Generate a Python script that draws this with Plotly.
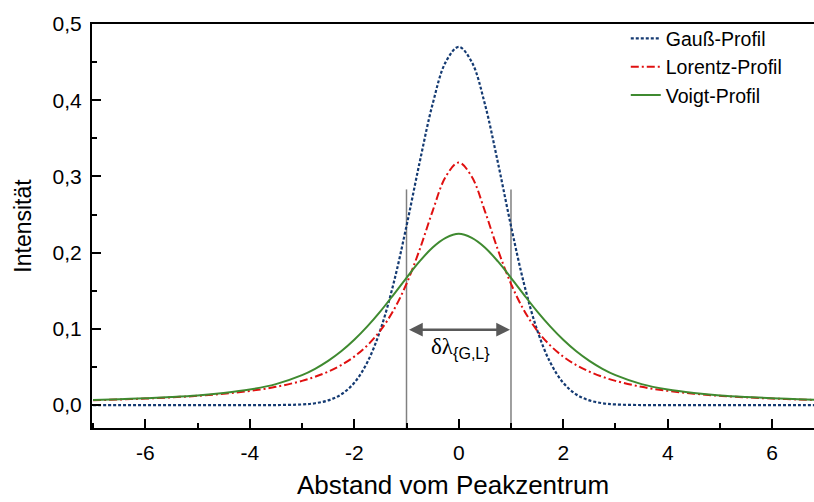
import plotly.graph_objects as go

# Abstand vom Peakzentrum (x values)
x_vals = [-7, -6.5, -6, -5.5, -5, -4.5, -4, -3.5, -3, -2.75, -2.5, -2.25, -2, -1.75, -1.5, -1.25, -1,
          -0.75, -0.5, -0.25, 0, 0.25, 0.5, 0.75, 1, 1.25, 1.5, 1.75, 2, 2.25, 2.5, 2.75, 3, 3.5,
          4, 4.5, 5, 5.5, 6, 6.5, 7]

# Half-profiles (|x| = 0 ... 7), mirrored about the peak
half_x = [0, 0.25, 0.5, 0.75, 1, 1.25, 1.5, 1.75, 2, 2.25, 2.5, 2.75, 3, 3.5, 4, 4.5, 5, 5.5, 6, 6.5, 7]
gauss_half = [0.470, 0.450, 0.395, 0.318, 0.235, 0.159, 0.0987, 0.0562, 0.0293, 0.0140, 0.0062,
              0.0025, 0.0009, 0.0001, 0.0, 0.0, 0.0, 0.0, 0.0, 0.0, 0.0]
lorentz_half = [0.3183, 0.2996, 0.2546, 0.2037, 0.1592, 0.1242, 0.0979, 0.0784, 0.0637, 0.0525,
                0.0439, 0.0372, 0.0318, 0.0240, 0.0187, 0.0150, 0.0122, 0.0102, 0.0086, 0.0074, 0.0064]
voigt_half = [0.2248, 0.2194, 0.2068, 0.1885, 0.1670, 0.1447, 0.1230, 0.1033, 0.0857, 0.0706,
              0.0580, 0.0476, 0.0393, 0.0276, 0.0205, 0.0160, 0.0128, 0.0107, 0.0091, 0.0078, 0.0068]

series_names = ["Gauß-Profil", "Lorentz-Profil", "Voigt-Profil"]

# FWHM markers and arrow
fwhm_x = [-1, 1]
fwhm_line_top = 0.283
arrow_y = 0.099
label_text = ("δλ<sub><span style='font-family:Liberation Sans, Arial'>{G,L}</span></sub>")

x_ticks = [-6, -4, -2, 0, 2, 4, 6]
y_ticks = [0.0, 0.1, 0.2, 0.3, 0.4, 0.5]


def mirror(half):
    lookup = dict(zip(half_x, half))
    return [lookup[abs(v)] for v in x_vals]


gauss = mirror(gauss_half)
lorentz = mirror(lorentz_half)
voigt = mirror(voigt_half)

fig = go.Figure()

# FWHM vertical lines
for xv in fwhm_x:
    fig.add_trace(go.Scatter(x=[xv, xv], y=[-0.03, fwhm_line_top], mode="lines",
                             line=dict(color="#808080", width=1.5), showlegend=False,
                             hoverinfo="skip"))

fig.add_trace(go.Scatter(x=x_vals, y=gauss, name=series_names[0], mode="lines",
                         line=dict(color="#143a72", width=2.2, dash="3px,2px", shape="spline")))
fig.add_trace(go.Scatter(x=x_vals, y=lorentz, name=series_names[1], mode="lines",
                         line=dict(color="#e01010", width=2, dash="8px,3px,2px,3px", shape="spline")))
fig.add_trace(go.Scatter(x=x_vals, y=voigt, name=series_names[2], mode="lines",
                         line=dict(color="#3f8a30", width=2, shape="spline")))

fig.add_annotation(x=fwhm_x[1], y=arrow_y, ax=fwhm_x[0], ay=arrow_y, xref="x", yref="y",
                   axref="x", ayref="y", text="", showarrow=True, arrowhead=2, startarrowhead=2,
                   arrowside="end+start", arrowsize=1.1, arrowwidth=2.5, arrowcolor="#595959",
                   standoff=1, startstandoff=1)
fig.add_annotation(x=0.03, y=arrow_y, xref="x", yref="y", text=label_text, showarrow=False,
                   yshift=-18, font=dict(family="Liberation Serif", size=23, color="black"))

fig.update_layout(
    width=814, height=502,
    margin=dict(l=92, r=0, t=24, b=74),
    paper_bgcolor="white", plot_bgcolor="white",
    separators=",.",
    font=dict(family="Liberation Sans, Arial", color="black", size=21),
    legend=dict(x=0.7393, y=1.012, xanchor="left", yanchor="top", bgcolor="rgba(0,0,0,0)",
                font=dict(size=19.5), itemwidth=30),
    xaxis=dict(range=[-7.02, 6.8], tickvals=x_ticks, ticktext=[str(v) for v in x_ticks],
               ticks="inside", ticklen=9, tickwidth=1.5, tickcolor="black", ticklabelstandoff=5,
               minor=dict(dtick=1, tick0=-7, ticks="inside", ticklen=5, tickwidth=1.5, tickcolor="black"),
               showline=True, linewidth=2, linecolor="black", mirror=True, showgrid=False,
               zeroline=False, title=dict(text="Abstand vom Peakzentrum", font=dict(size=26), standoff=13),
               tickfont=dict(size=21)),
    yaxis=dict(range=[-0.03, 0.5], tickvals=y_ticks, tickformat=".1f",
               ticks="inside", ticklen=9, tickwidth=1.5, tickcolor="black", ticklabelstandoff=4,
               minor=dict(dtick=0.05, tick0=0, ticks="inside", ticklen=5, tickwidth=1.5, tickcolor="black"),
               showline=True, linewidth=2, linecolor="black", mirror=False, showgrid=False,
               zeroline=False, title=dict(text="Intensität", font=dict(size=23), standoff=15),
               tickfont=dict(size=21)),
)

fig.write_html("out.html")
